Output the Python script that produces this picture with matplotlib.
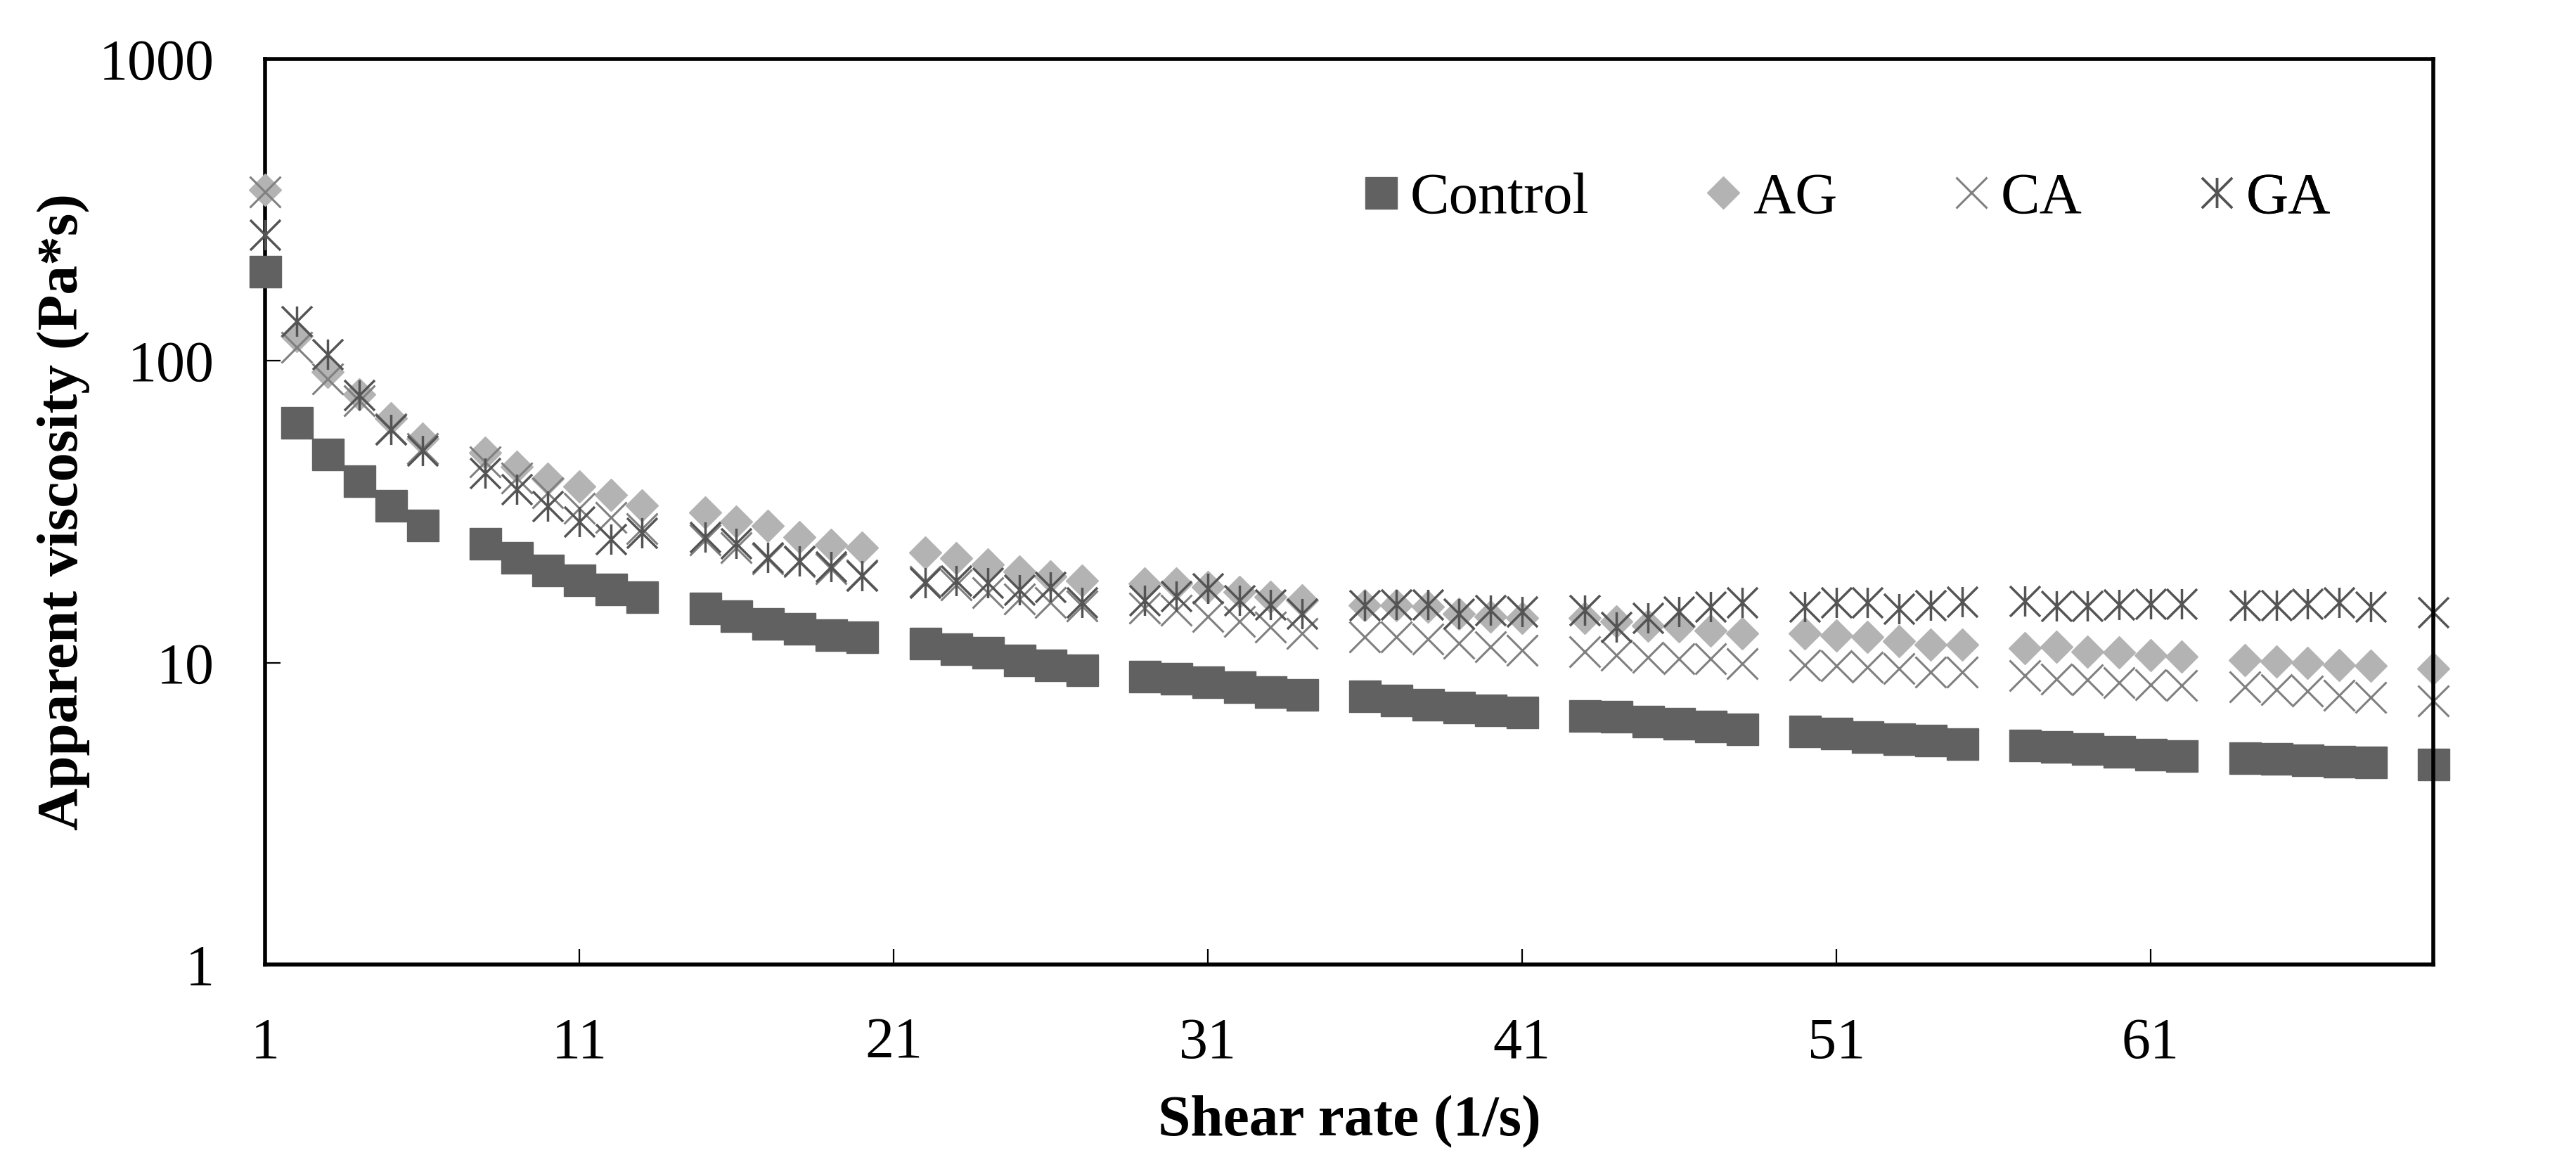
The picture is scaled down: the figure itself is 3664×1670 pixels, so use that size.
import matplotlib
matplotlib.use("Agg")
import matplotlib.pyplot as plt
from matplotlib.path import Path
from matplotlib.ticker import NullLocator

# ---------------- data ----------------
shear_rate = [1, 2, 3, 4, 5, 6,
              8, 9, 10, 11, 12, 13,
              15, 16, 17, 18, 19, 20,
              22, 23, 24, 25, 26, 27,
              29, 30, 31, 32, 33, 34,
              36, 37, 38, 39, 40, 41,
              43, 44, 45, 46, 47, 48,
              50, 51, 52, 53, 54, 55,
              57, 58, 59, 60, 61, 62,
              64, 65, 66, 67, 68,
              70]

control = [198, 62.6, 49.1, 40.0, 33.2, 28.5,
           24.9, 22.3, 20.3, 18.8, 17.5, 16.5,
           15.2, 14.3, 13.5, 12.96, 12.4, 12.2,
           11.6, 11.1, 10.8, 10.2, 9.85, 9.45,
           9.0, 8.87, 8.66, 8.34, 8.01, 7.86,
           7.77, 7.5, 7.29, 7.13, 6.96, 6.85,
           6.69, 6.63, 6.39, 6.29, 6.17, 6.04,
           5.94, 5.85, 5.70, 5.60, 5.55, 5.40,
           5.33, 5.28, 5.19, 5.07, 4.97, 4.92,
           4.85, 4.81, 4.77, 4.72, 4.70,
           4.61]

ag = [368, 121, 92, 77.5, 64.5, 55.3,
      49.5, 44.6, 40.8, 38.4, 36.0, 33.2,
      31.5, 29.4, 28.4, 26.1, 24.6, 24.0,
      23.2, 22.2, 21.1, 20.0, 19.3, 18.7,
      18.3, 18.3, 17.8, 17.2, 16.5, 16.1,
      15.5, 15.5, 15.3, 14.5, 14.2, 14.1,
      14.1, 13.7, 13.3, 13.2, 12.8, 12.5,
      12.5, 12.3, 12.2, 11.8, 11.5, 11.5,
      11.2, 11.3, 10.9, 10.8, 10.6, 10.5,
      10.2, 10.1, 10.0, 9.84, 9.75,
      9.58]

ca = [362, 111, 87, 73.8, 59.5, 51.2,
      46.3, 41.0, 36.5, 32.5, 30.3, 27.8,
      25.5, 24.0, 22.1, 21.6, 20.5, 19.5,
      18.6, 18.1, 17.1, 16.3, 15.8, 15.4,
      15.2, 14.9, 14.2, 13.7, 13.1, 12.5,
      12.2, 12.2, 12.0, 11.6, 11.3, 11.0,
      10.9, 10.6, 10.4, 10.3, 10.3, 9.95,
      9.84, 9.75, 9.67, 9.55, 9.33, 9.33,
      9.08, 8.84, 8.76, 8.61, 8.45, 8.42,
      8.30, 8.15, 8.05, 7.80, 7.66,
      7.48]

ga = [262, 135, 105, 77, 59.3, 50.5,
      42.5, 37.5, 33.0, 29.3, 25.6, 27.0,
      26.1, 24.9, 22.3, 21.7, 20.8, 19.4,
      18.4, 18.7, 18.4, 17.4, 17.8, 15.8,
      16.1, 16.6, 17.6, 16.1, 15.6, 14.5,
      15.5, 15.6, 15.6, 14.5, 14.9, 14.8,
      14.9, 13.1, 14.1, 14.8, 15.3, 15.8,
      15.3, 15.8, 15.8, 15.1, 15.5, 15.9,
      16.0, 15.4, 15.4, 15.6, 15.7, 15.7,
      15.5, 15.5, 15.7, 15.8, 15.3,
      14.7]

series_names = ["Control", "AG", "CA", "GA"]
x_ticks = [1, 11, 21, 31, 41, 51, 61]
y_ticks = [1, 10, 100, 1000]
y_tick_labels = ["1", "10", "100", "1000"]

# ---------------- style ----------------
DPI = 200
SERIF = ["Liberation Serif", "DejaVu Serif"]
plt.rcParams["font.family"] = SERIF

fig = plt.figure(figsize=(3664 / DPI, 1670 / DPI), dpi=DPI)
ax = fig.add_axes([0.1029, 0.1784, 0.8417, 0.7713])

# Excel-like "star" marker: X with a vertical bar
star_path = Path([(-1, -1), (1, 1), (-1, 1), (1, -1), (0, -1), (0, 1)],
                 [Path.MOVETO, Path.LINETO, Path.MOVETO, Path.LINETO,
                  Path.MOVETO, Path.LINETO])

styles = [
    dict(marker="s", ms=16.2, color="#616161", mec="#616161", mew=0.5),
    dict(marker="D", ms=11.6, color="#B3B3B3", mec="#B3B3B3", mew=0.5),
    dict(marker="x", ms=15.5, color="#808080", mew=1.1),
    dict(marker=star_path, ms=15.5, color="#545454", mew=1.25),
]

handles = []
for name, vals, st in zip(series_names, [control, ag, ca, ga], styles):
    h, = ax.plot(shear_rate, vals, ls="none", label=name, clip_on=False,
                 zorder=3, **st)
    handles.append(h)

ax.set_yscale("log")
ax.set_xlim(1, 70)
ax.set_ylim(1, 1000)
ax.set_xticks(x_ticks)
ax.set_xticklabels([str(t) for t in x_ticks])
ax.set_yticks(y_ticks)
ax.set_yticklabels(y_tick_labels)
ax.yaxis.set_minor_locator(NullLocator())
ax.xaxis.set_minor_locator(NullLocator())

for side in ["left", "bottom", "top", "right"]:
    ax.spines[side].set_linewidth(2.0)
    ax.spines[side].set_color("black")
ax.spines["right"].set_zorder(5)

ax.tick_params(axis="both", which="major", direction="in", length=7.9,
               width=0.8, colors="black", labelsize=29.5,
               left=True, bottom=True, top=False, right=False)
ax.tick_params(axis="y", pad=26)
ax.tick_params(axis="x", pad=27)

ax.set_xlabel("Shear rate (1/s)", fontsize=30, fontweight="bold")
ax.set_ylabel("Apparent viscosity (Pa*s)", fontsize=30, fontweight="bold")
ax.xaxis.set_label_coords(0.5, -0.174)
ax.xaxis.label.set_va("center")
ax.yaxis.set_label_coords(-0.093, 0.5)
ax.yaxis.label.set_va("center")

# Legend: one entry each, placed like the original
marker_x = [0.5146, 0.6725, 0.787, 0.900]
legend_y = 0.8455
fs_px = 30 * DPI / 72.0
offset = 0.5 * fs_px / (3664 * 0.8417)
for h, mx in zip(handles, marker_x):
    leg = ax.legend(handles=[h], loc="center left",
                    bbox_to_anchor=(mx - offset, legend_y),
                    frameon=False, fontsize=30, handlelength=1.0,
                    handletextpad=0.0, borderpad=0, borderaxespad=0,
                    numpoints=1)
    ax.add_artist(leg)

fig.savefig("out.png", dpi=DPI, facecolor="white")
